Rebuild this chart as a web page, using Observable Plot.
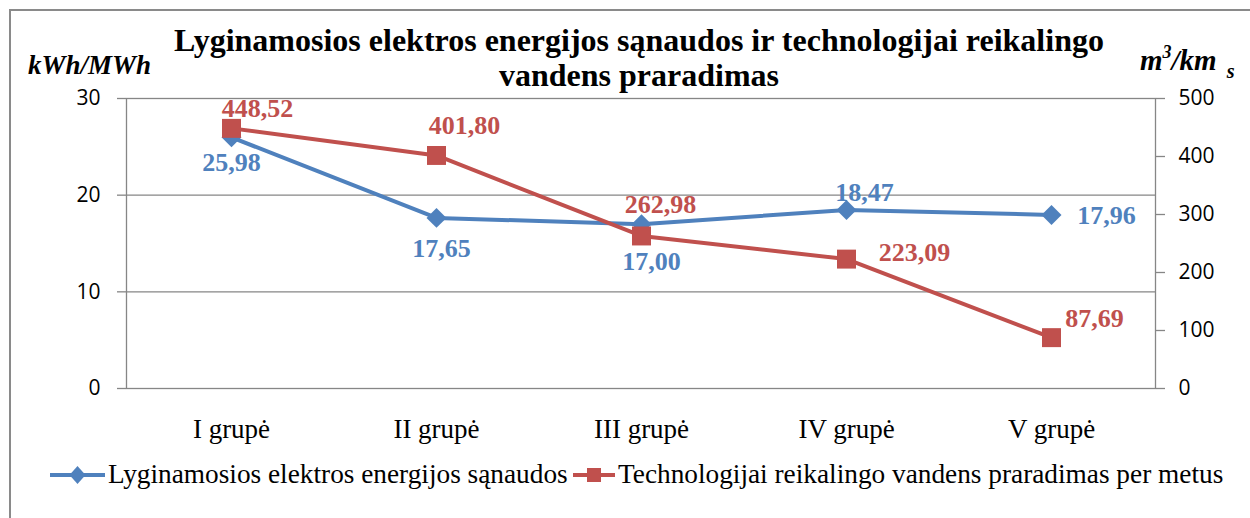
<!DOCTYPE html>
<html><head><meta charset="utf-8">
<script src="https://cdn.jsdelivr.net/npm/d3@7"></script>
<script src="https://cdn.jsdelivr.net/npm/@observablehq/plot@0.6"></script>
<style>
body{margin:0;background:#fff;}
#wrap{position:relative;width:1250px;height:518px;overflow:hidden;background:#fff;}
#frame{position:absolute;left:9px;top:9px;width:1300px;height:530px;border:2px solid #8a8a8a;box-sizing:border-box;}
#title{position:absolute;left:14px;width:1250px;top:23px;text-align:center;font-family:"Liberation Serif",serif;font-weight:bold;font-size:32px;line-height:35px;color:#000;}
.ylab{position:absolute;font-family:"Liberation Serif",serif;font-weight:bold;font-style:italic;font-size:27px;color:#000;white-space:nowrap;}
#chart{position:absolute;left:0;top:86px;}
#legend{position:absolute;top:459px;left:0;width:1250px;height:30px;font-family:"Liberation Serif",serif;font-size:27.3px;color:#000;}
.item{position:absolute;top:0;display:flex;align-items:center;white-space:nowrap;}
.item svg{display:block;}
</style></head>
<body><div id="wrap">
<div id="frame"></div>
<div id="title"></div>
<div class="ylab" id="ylabL" style="left:28px;top:50px;"></div>
<div class="ylab" id="ylabR" style="left:1140px;top:42px;font-size:29px;"></div>
<div id="chart"></div>
<div id="legend"></div>
</div>
<script>
// ---- data ----
const categories = ["I grupė", "II grupė", "III grupė", "IV grupė", "V grupė"];
const electricity = [25.98, 17.65, 17.00, 18.47, 17.96];      // kWh/MWh (left axis)
const waterLoss = [448.52, 401.80, 262.98, 223.09, 87.69];    // m3/km s (right axis)
const leftTicks = [0, 10, 20, 30];
const rightTicks = [0, 100, 200, 300, 400, 500];
const seriesNames = ["Lyginamosios elektros energijos sąnaudos", "Technologijai reikalingo vandens praradimas per metus"];
const titleLines = ["Lyginamosios elektros energijos sąnaudos ir technologijai reikalingo", "vandens praradimas"];
const leftAxisTitle = "kWh/MWh";

// ---- styles ----
const BLUE = "#4F81BD", RED = "#C0504D", GRID = "#868686";
const leftMax = 30, rightMax = 500, k = leftMax / rightMax;
// data-label nudges in px from each point (as placed in the original chart)
const elecNudgeX = [0, 5, 10, 18, 55];
const elecNudgeY = [25, 31, 38, -17, 1];
const waterNudgeX = [26, 28, 19, 68, 43];
const waterNudgeY = [-20, -30, -31, -6, -19];

const fmt = v => d3.format(".2f")(v).replace(".", ",");

document.getElementById("title").innerHTML = titleLines.join("<br>");
document.getElementById("ylabL").textContent = leftAxisTitle;
document.getElementById("ylabR").innerHTML = 'm<sup style="font-size:62%;vertical-align:55%">3</sup>/km<span style="font-size:70%;position:relative;top:8px;margin-left:10px">s</span>';

const elecData = categories.map((c, i) => ({cat: c, y: electricity[i], label: fmt(electricity[i]), dx: elecNudgeX[i], dy: elecNudgeY[i]}));
const waterData = categories.map((c, i) => ({cat: c, y: waterLoss[i] * k, label: fmt(waterLoss[i]), dx: waterNudgeX[i], dy: waterNudgeY[i]}));

function labels(data, color) {
  // one text mark per label so each may carry its own offset
  return data.map(d => Plot.text([d], {
    x: "cat", y: "y", text: "label", dx: d.dx, dy: d.dy, textAnchor: "middle",
    fill: color, fontWeight: "bold", fontSize: 26, fontFamily: "Liberation Serif", lineAnchor: "middle"
  }));
}

const chart = Plot.plot({
  width: 1250, height: 364,
  marginLeft: 126, marginRight: 95, marginTop: 12, marginBottom: 62,
  style: {fontFamily: "Open Sans, sans-serif", fontSize: "21px", color: "#000", background: "transparent", overflow: "visible"},
  x: {type: "point", domain: categories, padding: 0.5, label: null},
  y: {domain: [0, leftMax], label: null},
  marks: [
    Plot.gridY(leftTicks.filter(t => t > 0 && t < leftMax), {stroke: GRID, strokeOpacity: 1, strokeWidth: 1.3}),
    Plot.frame({stroke: GRID, strokeWidth: 1.3}),
    Plot.axisY(leftTicks, {anchor: "left", tickSize: 9, tickPadding: 17, stroke: GRID, strokeWidth: 1.3, label: null, fontSize: 21}),
    Plot.axisY(rightTicks.map(t => t * k), {anchor: "right", tickSize: 9, tickPadding: 14, stroke: GRID, strokeWidth: 1.3, label: null, fontSize: 21, tickFormat: d => d3.format("d")(Math.round(d / k))}),
    Plot.axisX({tickSize: 0, tickPadding: 30, fontFamily: "Liberation Serif", fontSize: 27, label: null}),
    Plot.line(elecData, {x: "cat", y: "y", stroke: BLUE, strokeWidth: 4}),
    Plot.dot(elecData, {x: "cat", y: "y", symbol: "diamond2", r: 9, fill: BLUE, stroke: null}),
    Plot.line(waterData, {x: "cat", y: "y", stroke: RED, strokeWidth: 4}),
    Plot.dot(waterData, {x: "cat", y: "y", symbol: "square", r: 10.7, fill: RED, stroke: null}),
    ...labels(elecData, BLUE),
    ...labels(waterData, RED)
  ]
});
document.getElementById("chart").appendChild(chart);

// legend
const legend = document.getElementById("legend");
function legendItem(left, color, shape, name, lineW) {
  const div = document.createElement("div");
  div.className = "item";
  div.style.left = left + "px";
  const w = lineW, c = w / 2;
  const marker = shape === "diamond"
    ? `<path d="M${c},6 L${c + 8},15 L${c},24 L${c - 8},15 Z" fill="${color}"/>`
    : `<rect x="${c - 7}" y="8" width="14" height="14" fill="${color}"/>`;
  div.innerHTML = `<svg width="${w}" height="30"><line x1="0" x2="${w}" y1="15" y2="15" stroke="${color}" stroke-width="4"/>${marker}</svg><span style="margin-left:3px">${name}</span>`;
  legend.appendChild(div);
}
legendItem(50, BLUE, "diamond", seriesNames[0], 55);
legendItem(573, RED, "square", seriesNames[1], 42);
</script>
</body></html>
